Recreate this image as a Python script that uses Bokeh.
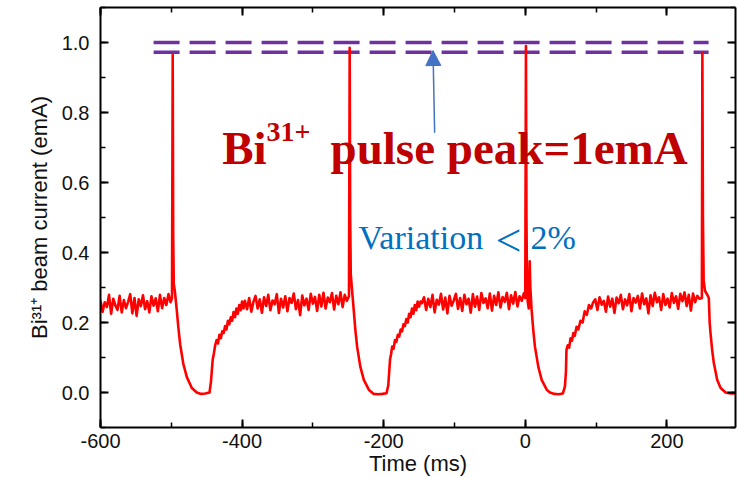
import numpy as np
from bokeh.plotting import figure
from bokeh.models import (Range1d, LinearAxis, SingleIntervalTicker, NumeralTickFormatter,
                          Label, Arrow, NormalHead, ColumnDataSource)
from bokeh.embed import file_html
from bokeh.resources import INLINE

# ---------------- data ----------------
# noisy flat baseline segments, sampled every 3 ms
base0_t = np.arange(-600, -500, 3)
base0_v = [0.262, 0.231, 0.258, 0.244, 0.279, 0.225, 0.268, 0.249, 0.236, 0.276,
           0.229, 0.264, 0.241, 0.259, 0.281, 0.226, 0.27, 0.219, 0.266, 0.247,
           0.278, 0.238, 0.261, 0.229, 0.275, 0.248, 0.269, 0.232, 0.279, 0.241,
           0.27, 0.25, 0.281, 0.258]

pulse1_t = [-499, -498, -497.3, -496.5, -495, -492.3, -490, -487.5, -483, -478, -471, -464,
            -458, -452, -446, -444, -441.5, -440, -438, -436, -434, -432, -430, -428, -426,
            -424, -422, -420, -418, -416, -414, -412, -410, -408, -406, -404, -402, -400, -398]
pulse1_v = [0.27, 0.965, 0.45, 0.31, 0.29, 0.236, 0.185, 0.138, 0.082, 0.044, 0.013, 0.0,
            -0.004, -0.003, 0.0, 0.03, 0.094, 0.11, 0.135, 0.15, 0.14, 0.165, 0.155, 0.175, 0.17,
            0.19, 0.18, 0.205, 0.195, 0.215, 0.205, 0.23, 0.215, 0.24, 0.225, 0.25, 0.235, 0.26, 0.24]

base1_t = np.arange(-396, -250, 3)
base1_v = [0.262, 0.238, 0.27, 0.231, 0.259, 0.276, 0.24, 0.266, 0.228, 0.272,
           0.247, 0.279, 0.235, 0.263, 0.252, 0.281, 0.227, 0.268, 0.243, 0.275,
           0.232, 0.27, 0.256, 0.283, 0.238, 0.264, 0.221, 0.277, 0.249, 0.268,
           0.236, 0.282, 0.254, 0.273, 0.233, 0.279, 0.246, 0.285, 0.24, 0.271,
           0.258, 0.284, 0.237, 0.276, 0.252, 0.286, 0.244, 0.279, 0.262]

pulse2_t = [-249, -248, -247.3, -246.5, -245, -242.3, -240, -237.5, -233, -228, -221, -214,
            -208, -202, -196, -193.5, -191, -189.5, -188, -186, -184, -182, -180, -178, -176,
            -174, -172, -170, -168, -166, -164, -162, -160, -158, -156, -154, -152, -150, -148]
pulse2_v = [0.275, 0.985, 0.5, 0.34, 0.30, 0.236, 0.179, 0.131, 0.074, 0.036, 0.008, -0.004,
            -0.005, -0.004, -0.002, 0.02, 0.094, 0.11, 0.131, 0.125, 0.15, 0.145, 0.165, 0.16, 0.18,
            0.175, 0.195, 0.19, 0.21, 0.2, 0.225, 0.215, 0.24, 0.225, 0.25, 0.235, 0.26, 0.245, 0.26]

base2_t = np.arange(-146, 0, 3)
base2_v = [0.255, 0.272, 0.236, 0.268, 0.244, 0.279, 0.229, 0.265, 0.251, 0.282,
           0.237, 0.271, 0.226, 0.276, 0.248, 0.263, 0.282, 0.239, 0.27, 0.233,
           0.279, 0.252, 0.268, 0.228, 0.281, 0.245, 0.274, 0.236, 0.284, 0.256,
           0.269, 0.241, 0.283, 0.234, 0.276, 0.25, 0.286, 0.243, 0.273, 0.259,
           0.285, 0.238, 0.278, 0.254, 0.287, 0.246, 0.275, 0.262, 0.283]

pulse3_t = [0, 1, 1.7, 2.5, 3.5, 5, 6.3, 7.2, 9, 11.3, 13.7, 18.4, 23.2, 30.3, 35, 41, 47, 53,
            56, 57.5, 58.2, 60, 62, 64, 66, 68, 70, 72.5, 75, 78, 81, 84, 87, 90, 93]
pulse3_v = [0.27, 0.99, 0.5, 0.3, 0.26, 0.24, 0.375, 0.3, 0.236, 0.179, 0.131, 0.074, 0.036,
            0.008, 0.0, -0.004, -0.005, -0.003, 0.017, 0.06, 0.122, 0.135, 0.128, 0.155, 0.148,
            0.17, 0.162, 0.188, 0.18, 0.205, 0.2, 0.232, 0.222, 0.25, 0.24]

base3_t = np.arange(96, 249, 3)
base3_v = [0.258, 0.266, 0.236, 0.272, 0.251, 0.262, 0.231, 0.274, 0.245, 0.268,
           0.227, 0.271, 0.255, 0.279, 0.238, 0.266, 0.249, 0.281, 0.232, 0.27,
           0.257, 0.276, 0.24, 0.283, 0.252, 0.269, 0.226, 0.278, 0.247, 0.285,
           0.258, 0.272, 0.236, 0.281, 0.25, 0.268, 0.243, 0.284, 0.256, 0.275,
           0.239, 0.282, 0.261, 0.286, 0.247, 0.279, 0.234, 0.283, 0.258, 0.276, 0.268]

pulse4_t = [249.5, 250.2, 251, 252, 254, 257, 259.3, 260.5, 261.7, 264, 266.4, 271.2, 276,
            283, 290, 297]
pulse4_v = [0.27, 0.97, 0.5, 0.32, 0.29, 0.28, 0.27, 0.2, 0.17, 0.122, 0.084, 0.036, 0.013,
            0.0, -0.003, -0.003]

# peak reference lines (two dashed levels)
peak_line_x = [-525, 259]
peak_levels = [1.0, 0.972]

# ---------------- figure ----------------
time_ms = np.concatenate([base0_t, pulse1_t, base1_t, pulse2_t, base2_t, pulse3_t, base3_t, pulse4_t])
current = np.concatenate([base0_v, pulse1_v, base1_v, pulse2_v, base2_v, pulse3_v, base3_v, pulse4_v])
src = ColumnDataSource(dict(t=time_ms, i=current))

p = figure(width=738, height=478, x_range=Range1d(-600, 297), y_range=Range1d(-0.1, 1.1),
           output_backend="svg", toolbar_location=None,
           min_border_left=100, min_border_right=3, min_border_top=7, min_border_bottom=50,
           x_axis_label="Time (ms)", y_axis_label="Bi³¹⁺ beam current (emA)")
p.outline_line_color = None
p.xgrid.visible = False
p.ygrid.visible = False
p.background_fill_color = "white"
p.border_fill_color = "white"

def style(ax, labels=True):
    ax.axis_line_width = 2
    ax.axis_line_color = "black"
    ax.major_tick_in = 8
    ax.major_tick_out = 0
    ax.minor_tick_in = 5
    ax.minor_tick_out = 0
    ax.major_tick_line_width = 2
    ax.minor_tick_line_width = 1.5
    ax.major_tick_line_color = "black"
    ax.minor_tick_line_color = "black"
    if labels:
        ax.major_label_text_font = "Liberation Sans"
        ax.major_label_text_font_size = "20px"
        ax.major_label_text_color = "#111111"
        ax.axis_label_text_font = "Liberation Sans"
        ax.axis_label_text_font_style = "normal"
        ax.axis_label_text_color = "#111111"
    else:
        ax.major_label_text_font_size = "0px"
        ax.major_label_standoff = 0
        ax.axis_label = None

p.xaxis.ticker = SingleIntervalTicker(interval=200, num_minor_ticks=2)
p.yaxis.ticker = SingleIntervalTicker(interval=0.2, num_minor_ticks=2)
p.xaxis.formatter = NumeralTickFormatter(format="0")
p.yaxis.formatter = NumeralTickFormatter(format="0.0")
style(p.xaxis[0])
style(p.yaxis[0])
p.xaxis.major_label_standoff = 6
p.xaxis.axis_label_standoff = 0
p.xaxis.axis_label_text_font_size = "22px"
p.yaxis.major_label_standoff = 11
p.yaxis.axis_label_standoff = 7
p.yaxis.axis_label_text_font_size = "22px"

top = LinearAxis(ticker=SingleIntervalTicker(interval=200, num_minor_ticks=2))
style(top, labels=False)
p.add_layout(top, "above")
right = LinearAxis(ticker=SingleIntervalTicker(interval=0.2, num_minor_ticks=2))
style(right, labels=False)
p.add_layout(right, "right")

# dashed peak lines
p.segment(x0=[peak_line_x[0]] * 2, x1=[peak_line_x[1]] * 2, y0=peak_levels, y1=peak_levels,
          line_color="#7030A0", line_width=3.5, line_dash="26 10", line_cap="butt")

# trace
p.line("t", "i", source=src, line_color="#FF0000", line_width=2.6, line_join="round")

# arrow
p.add_layout(Arrow(end=NormalHead(size=15, fill_color="#4472C4", line_color="#4472C4"),
                   x_start=-128.0, y_start=0.742, x_end=-130.3, y_end=0.977,
                   line_color="#4472C4", line_width=1.5))

red = "#C00000"
for txt, x, y, size in [("Bi", -428.1, 0.699, "47px"),
                        ("31+", -365.5, 0.7446, "28px"),
                        ("pulse peak=1emA", -275.1, 0.699, "47px")]:
    p.add_layout(Label(x=x, y=y, text=txt, text_font="Liberation Serif", text_font_style="bold",
                       text_font_size=size, text_color=red, text_baseline="alphabetic",
                       text_align="left"))

blue = "#0070C0"
for txt, x, y, size in [("Variation", -235.5, 0.4424, "34px"),
                        ("<", -42.0, 0.4344, "46px"),
                        ("2%", 7.4, 0.4424, "34px")]:
    p.add_layout(Label(x=x, y=y, text=txt, text_font="Liberation Serif",
                       text_font_size=size, text_color=blue, text_baseline="alphabetic",
                       text_align="left"))

open("out.html", "w").write(file_html(p, INLINE))
